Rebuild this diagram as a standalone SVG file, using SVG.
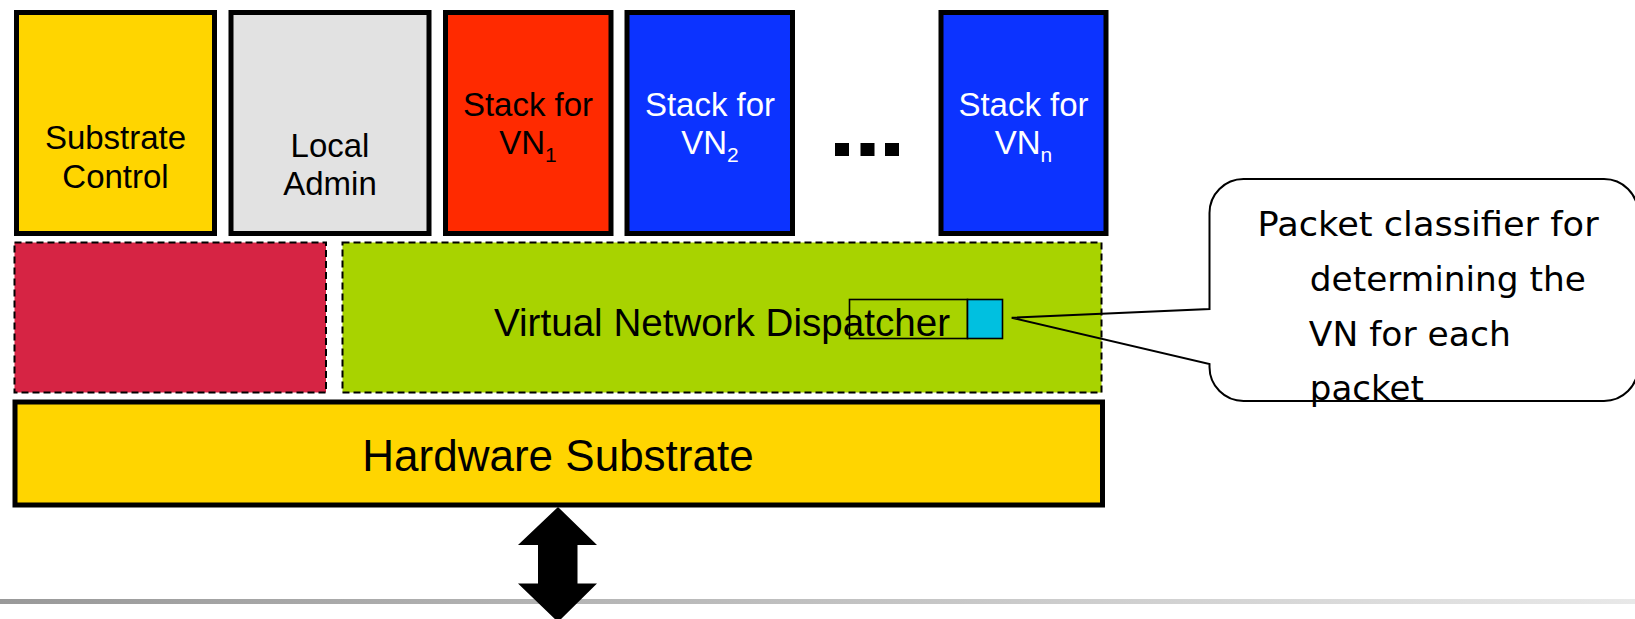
<svg xmlns="http://www.w3.org/2000/svg" width="1635" height="619" viewBox="0 0 1635 619">
<defs>
<linearGradient id="lineGrad" x1="0" y1="0" x2="1" y2="0">
<stop offset="0" stop-color="#999999"/>
<stop offset="1" stop-color="#e8e8e8"/>
</linearGradient>
<style>
.box{stroke:#000;stroke-width:5}
.dash{stroke:#000;stroke-width:2;stroke-dasharray:7 4}
.lbl{font-family:"Liberation Sans",Arial,sans-serif;font-size:33px;text-anchor:middle;fill:#000}
.wh{fill:#fff}
.sub{font-size:21px}
.call{font-family:"DejaVu Sans",Verdana,sans-serif;font-size:33px;fill:#000}
.thin{fill:none;stroke:#000;stroke-width:1.6}
</style>
</defs>
<rect width="1635" height="619" fill="#fff"/>

<g id="substrate-control">
<rect class="box" x="16.5" y="12.5" width="198" height="221" fill="#FFD500"/>
<text class="lbl" x="115.5" y="149">Substrate</text>
<text class="lbl" x="115.5" y="188">Control</text>
</g>
<g id="local-admin">
<rect class="box" x="231" y="12.5" width="198" height="221" fill="#E2E2E2"/>
<text class="lbl" x="330" y="157">Local</text>
<text class="lbl" x="330" y="195">Admin</text>
</g>
<g id="stack-vn1">
<rect class="box" x="445.5" y="12.5" width="165.5" height="221" fill="#FF2A00"/>
<text class="lbl" x="528" y="116">Stack for</text>
<text class="lbl" x="528" y="154">VN<tspan class="sub" dy="8">1</tspan></text>
</g>
<g id="stack-vn2">
<rect class="box" x="627" y="12.5" width="165.5" height="221" fill="#0C33FF"/>
<text class="lbl wh" x="710" y="116">Stack for</text>
<text class="lbl wh" x="710" y="154">VN<tspan class="sub" dy="8">2</tspan></text>
</g>
<g id="ellipsis">
<rect x="835" y="143" width="14" height="13" fill="#000"/>
<rect x="860.5" y="143" width="14" height="13" fill="#000"/>
<rect x="885" y="143" width="14" height="13" fill="#000"/>
</g>
<g id="stack-vnn">
<rect class="box" x="941" y="12.5" width="165" height="221" fill="#0C33FF"/>
<text class="lbl wh" x="1023.5" y="116">Stack for</text>
<text class="lbl wh" x="1023.5" y="154">VN<tspan class="sub" dy="8">n</tspan></text>
</g>

<g id="crimson-block">
<rect class="dash" x="14.5" y="242.5" width="311.5" height="150" fill="#D62444"/>
</g>
<g id="dispatcher">
<rect class="dash" x="342.5" y="242.5" width="759" height="150" fill="#A8D300"/>
<text class="lbl" x="722" y="336" style="font-size:38.6px">Virtual Network Dispatcher</text>
<rect class="thin" x="849.5" y="299.5" width="118" height="39"/>
<rect x="967.5" y="299.5" width="35" height="39" fill="#00C0E0" stroke="#000" stroke-width="1.6"/>
</g>

<g id="hardware-substrate">
<rect class="box" x="15" y="402" width="1087.5" height="103" fill="#FFD500"/>
<text class="lbl" x="558" y="471" style="font-size:44px">Hardware Substrate</text>
</g>

<g id="connectors">
<rect x="0" y="599" width="1635" height="5" fill="url(#lineGrad)"/>
<polygon points="558,507 597,545 577.5,545 577.5,583.5 597,583.5 558,622 518,583.5 538,583.5 538,545 518,545" fill="#000"/>
</g>

<g id="callout">
<path d="M1243.5,179 H1604 A34,34 0 0 1 1638,213 V367 A34,34 0 0 1 1604,401 H1243.5 A34,34 0 0 1 1209.5,367 V364 L1011.7,317.7 L1209.5,309 V213 A34,34 0 0 1 1243.5,179 Z" fill="none" stroke="#000" stroke-width="2"/>
<text class="call" x="1257.6" y="236" textLength="341" lengthAdjust="spacingAndGlyphs">Packet classifier for</text>
<text class="call" x="1309.8" y="291" textLength="276" lengthAdjust="spacingAndGlyphs">determining the</text>
<text class="call" x="1308.8" y="346" textLength="202" lengthAdjust="spacingAndGlyphs">VN for each</text>
<text class="call" x="1309.8" y="400" textLength="114" lengthAdjust="spacingAndGlyphs">packet</text>
</g>
</svg>
